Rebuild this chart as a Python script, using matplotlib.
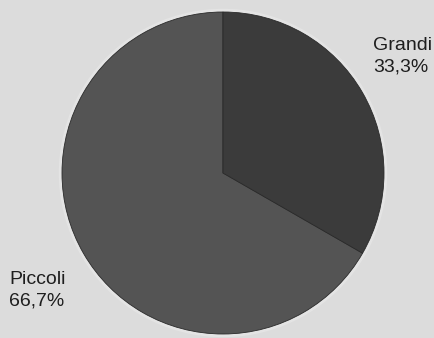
import matplotlib.pyplot as plt
from matplotlib.patches import Circle

labels = ['Piccoli', 'Grandi']
values = [66.7, 33.3]
pct_text = ['66,7%', '33,3%']
colors = ['#545454', '#3b3b3b']

fig = plt.figure(figsize=(4.35, 3.38), dpi=100)
fig.patch.set_facecolor('#dcdcdc')
ax = fig.add_axes([0, 0, 1, 1])
ax.set_facecolor('#dcdcdc')

# faint halo round the pie, as in the scan
ax.add_patch(Circle((223, 165), 163.5, color='#e4e4e4', zorder=0))

ax.pie(values, colors=colors, startangle=90, counterclock=True,
       center=(223, 165), radius=161, frame=True,
       wedgeprops=dict(edgecolor='#2a2a2a', linewidth=0.6))
ax.set_xlim(0, 435)
ax.set_ylim(0, 338)
ax.set_aspect('equal')
ax.axis('off')

ax.text(373, 301, labels[1] + '\n' + pct_text[1], fontsize=14,
        color='#1e1e1e', va='top', ha='left', linespacing=1.32,
        fontfamily='Liberation Sans')
ax.text(9, 67, labels[0] + '\n' + pct_text[0], fontsize=14,
        color='#1e1e1e', va='top', ha='left', linespacing=1.32,
        fontfamily='Liberation Sans')

fig.savefig('out.png', dpi=100, facecolor=fig.get_facecolor())
